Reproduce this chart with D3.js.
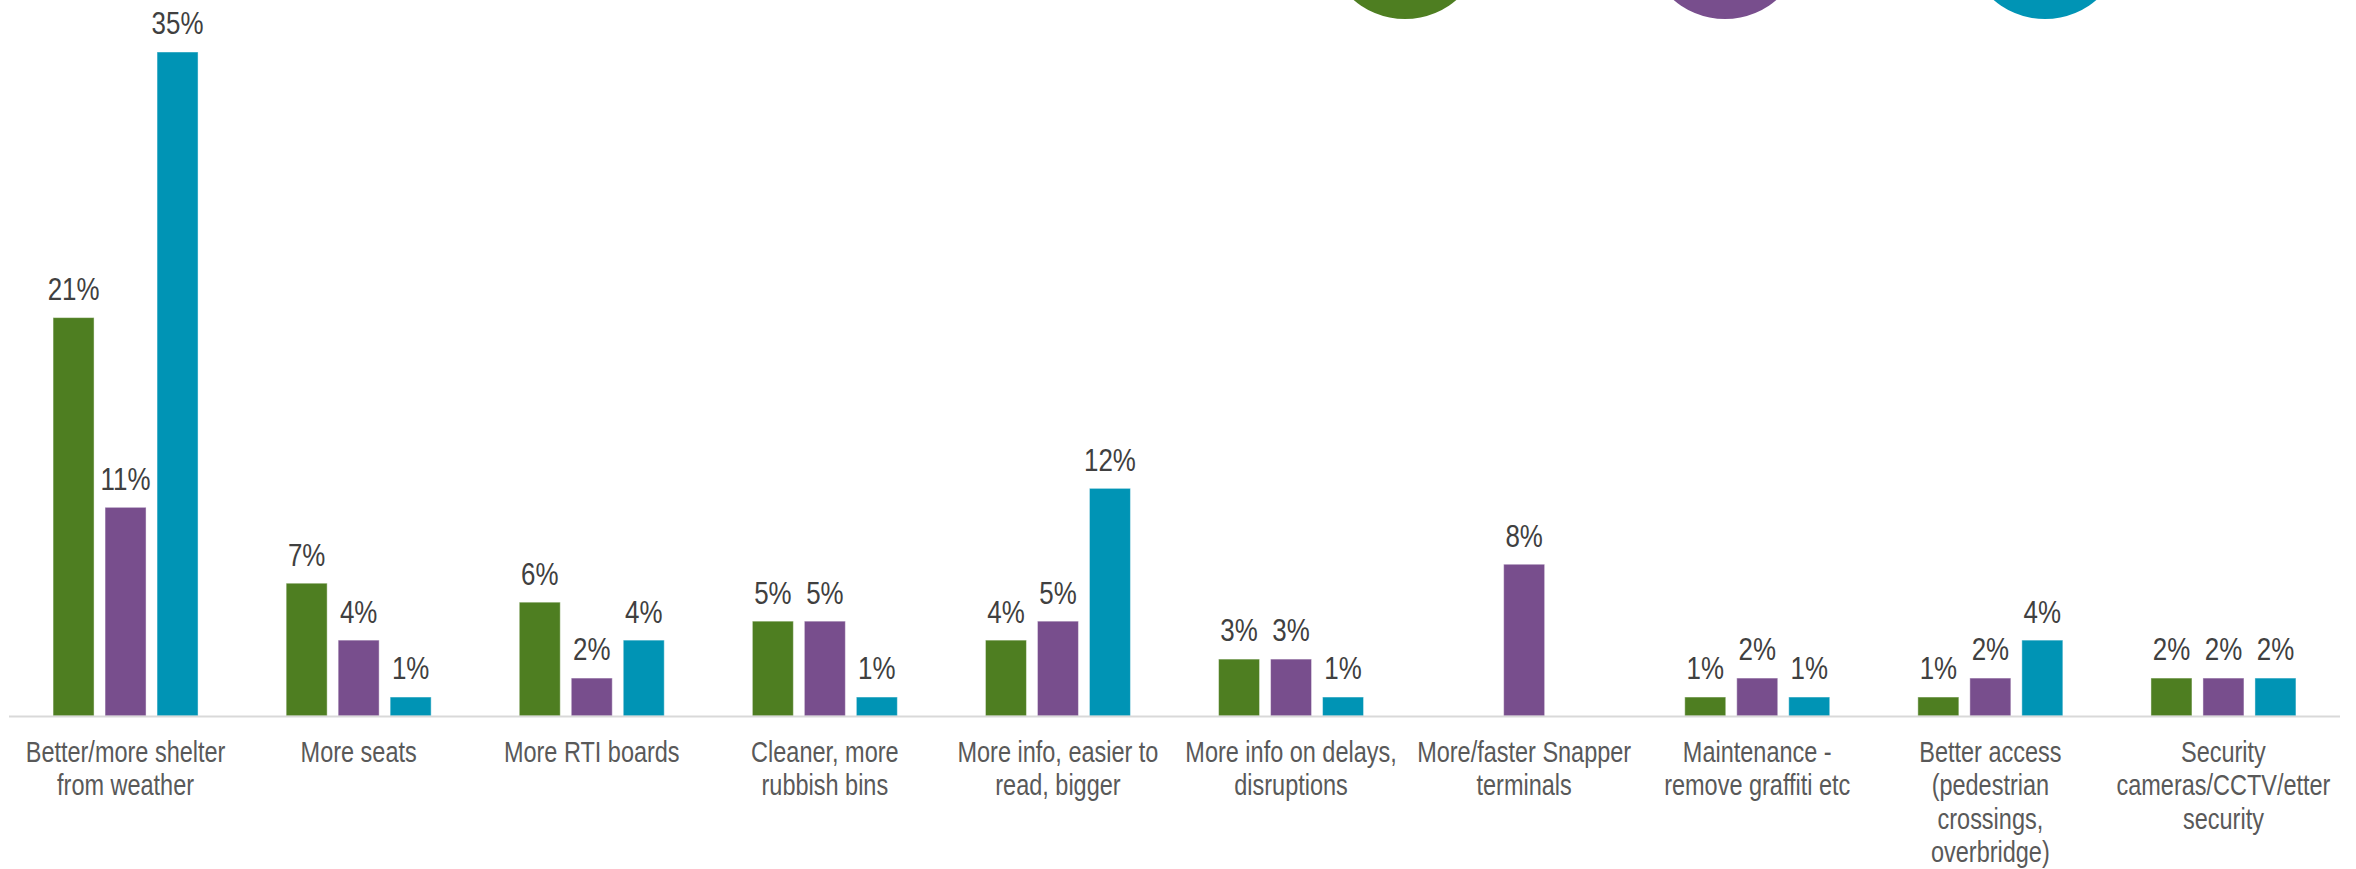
<!DOCTYPE html>
<html>
<head>
<meta charset="utf-8">
<script src="https://cdn.jsdelivr.net/npm/d3@7/dist/d3.min.js"></script>
<style>
  html, body { margin: 0; padding: 0; background: #ffffff; }
  svg { display: block; }
  .val { font-family: "Liberation Sans", Arial, sans-serif; fill: #404040; }
  .cat { font-family: "Liberation Sans", Arial, sans-serif; fill: #595959; }
</style>
</head>
<body>
<svg id="chart" width="2356" height="869"></svg>
<script>
// Survey responses: suggested improvements at stops, share of respondents per group
const categories = [
  "Better/more shelter\nfrom weather",
  "More seats",
  "More RTI boards",
  "Cleaner, more\nrubbish bins",
  "More info, easier to\nread, bigger",
  "More info on delays,\ndisruptions",
  "More/faster Snapper\nterminals",
  "Maintenance -\nremove graffiti etc",
  "Better access\n(pedestrian\ncrossings,\noverbridge)",
  "Security\ncameras/CCTV/etter\nsecurity"
];

const seriesKeys = ["groupA", "groupB", "groupC"];
const seriesColors = ["#4e7e21", "#784e8d", "#0094b5"];

// Percentages per category; null where no value is reported
const groupA = [21, 7, 6, 5, 4, 3, null, 1, 1, 2];
const groupB = [11, 4, 2, 5, 5, 3, 8, 2, 2, 2];
const groupC = [35, 1, 4, 1, 12, 1, null, 1, 4, 2];

const seriesValues = [groupA, groupB, groupC];

const svg = d3.select("#chart");

const plotLeft = 9, plotRight = 2340, baseY = 716, topY = 52;
// Condensed look for all text (no narrow face installed)
const narrow = 0.81;

const x0 = d3.scaleBand()
  .domain(d3.range(categories.length))
  .range([plotLeft, plotRight])
  .paddingInner(0.378)
  .paddingOuter(0.189);

const x1 = d3.scaleBand()
  .domain(seriesKeys)
  .range([0, x0.bandwidth()])
  .paddingInner(0.2115)
  .paddingOuter(0);

const y = d3.scaleLinear()
  .domain([0, 35])
  .range([baseY, topY]);

// Legend markers along the top edge (mostly cropped)
svg.append("g")
  .selectAll("circle")
  .data(seriesKeys)
  .join("circle")
  .attr("cx", (d, i) => 1405 + i * 320)
  .attr("cy", -60)
  .attr("r", 79)
  .attr("fill", (d, i) => seriesColors[i]);

// Bars
const groups = svg.append("g")
  .selectAll("g")
  .data(categories.map((c, i) => ({ i, vals: seriesKeys.map((k, s) => ({ key: k, s, v: seriesValues[s][i] })) })))
  .join("g")
  .attr("transform", d => `translate(${x0(d.i)},0)`);

groups.selectAll("rect")
  .data(d => d.vals.filter(v => v.v != null))
  .join("rect")
  .attr("x", d => x1(d.key))
  .attr("width", x1.bandwidth())
  .attr("y", d => y(d.v))
  .attr("height", d => y(0) - y(d.v))
  .attr("fill", d => seriesColors[d.s])
  .attr("stroke", "#ffffff")
  .attr("stroke-opacity", 0.45)
  .attr("stroke-width", 1);

// Value labels
groups.selectAll("text.val")
  .data(d => d.vals.filter(v => v.v != null))
  .join("text")
  .attr("class", "val")
  .attr("text-anchor", "middle")
  .attr("font-size", 32)
  .attr("transform", d => `translate(${x1(d.key) + x1.bandwidth() / 2},${y(d.v) - 17.6}) scale(${narrow},1)`)
  .text(d => d.v + "%");

// Category axis line
svg.append("line")
  .attr("x1", plotLeft)
  .attr("x2", plotRight)
  .attr("y1", baseY + 0.5)
  .attr("y2", baseY + 0.5)
  .attr("stroke", "#d9d9d9")
  .attr("stroke-width", 2);

// Category labels
const catText = svg.append("g")
  .selectAll("text")
  .data(categories)
  .join("text")
  .attr("class", "cat")
  .attr("text-anchor", "middle")
  .attr("font-size", 29)
  .attr("transform", (d, i) => `translate(${x0(i) + x0.bandwidth() / 2},762) scale(${narrow},1)`);

catText.selectAll("tspan")
  .data(d => d.split("\n"))
  .join("tspan")
  .attr("x", 0)
  .attr("y", (d, j) => j * 33.5)
  .text(d => d);
</script>
</body>
</html>
